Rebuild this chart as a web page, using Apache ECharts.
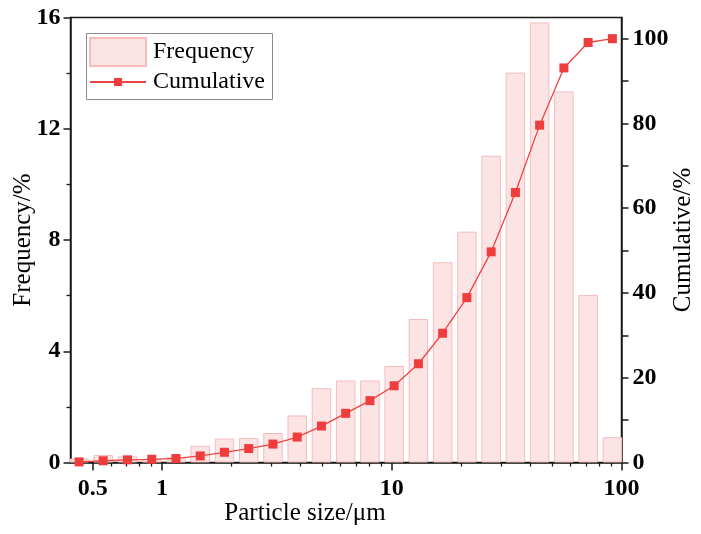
<!DOCTYPE html>
<html>
<head>
<meta charset="utf-8">
<script src="https://cdn.jsdelivr.net/npm/echarts@6/dist/echarts.min.js"></script>
<style>
  html, body { margin: 0; padding: 0; background: #fff; }
  #main { width: 701px; height: 534px; }
</style>
</head>
<body>
<div id="main"></div>
<script>
// 粒径 (µm), 每个柱子的中心
var sizes = [0.436, 0.555, 0.708, 0.903, 1.151, 1.468, 1.871, 2.386, 3.042, 3.879, 4.945, 6.305,
  8.039, 10.25, 13.07, 16.66, 21.24, 27.09, 34.54, 44.03, 56.14, 71.58, 91.27]
// 频率 %
var frequency = [0.14, 0.27, 0.22, 0.13, 0.19, 0.6, 0.86, 0.88, 1.06, 1.69, 2.67, 2.95,
  2.95, 3.47, 5.16, 7.2, 8.3, 11.03, 14.02, 15.82, 13.34, 6.02, 0.91]
// 累积 %
var cumulative = [0.14, 0.41, 0.63, 0.76, 0.95, 1.55, 2.41, 3.29, 4.35, 6.0, 8.6, 11.6,
  14.6, 18.1, 23.3, 30.5, 38.9, 49.7, 63.7, 79.6, 93.1, 99.1, 100]

var xMajorTicks = [0.5, 1, 10, 100]
var xMinorTicks = [0.6, 0.7, 0.8, 0.9, 2, 3, 4, 5, 6, 7, 8, 9, 20, 30, 40, 50, 60, 70, 80, 90]
var cumTicks = [0, 10, 20, 30, 40, 50, 60, 70, 80, 90, 100]
var cumLabels = [0, 20, 40, 60, 80, 100]

var font = 'Liberation Serif'
var axisColor = '#1a1a1a'

var myChart = echarts.init(document.getElementById('main'))

var tickLabel = {
  fontFamily: font,
  fontWeight: 'bold',
  fontSize: 24,
  color: '#000'
}
var nameStyle = {
  fontFamily: font,
  fontSize: 25,
  color: '#000'
}

let option = {
  animation: false,
  backgroundColor: '#fff',
  grid: {
    left: 70.5,
    top: 17.5,
    width: 551,
    height: 445,
    containLabel: false,
    outerBoundsMode: 'none',
    show: true,
    borderColor: axisColor,
    borderWidth: 1.5
  },
  legend: [
    {
      data: [{ name: 'Frequency', icon: 'rect' }],
      left: 89,
      top: 37,
      padding: 0,
      itemWidth: 56,
      itemHeight: 28,
      selectedMode: false,
      textStyle: { fontFamily: font, fontSize: 24, lineHeight: 24, color: '#000', padding: [0, 0, 0, 2] }
    },
    {
      data: ['Cumulative'],
      left: 89,
      top: 70,
      padding: 0,
      itemWidth: 56,
      itemHeight: 10,
      selectedMode: false,
      textStyle: { fontFamily: font, fontSize: 24, lineHeight: 24, color: '#000', padding: [0, 0, 0, 2] }
    }
  ],
  graphic: [
    {
      type: 'rect',
      shape: { x: 86.5, y: 33.5, width: 186, height: 66 },
      style: { fill: 'transparent', stroke: '#8c8c8c', lineWidth: 1 },
      z: 100
    }
  ],
  xAxis: [
    {
      type: 'log',
      min: 0.4,
      max: 100,
      position: 'bottom',
      name: 'Particle size/μm',
      nameLocation: 'middle',
      nameGap: 38,
      nameMoveOverlap: false,
      nameTextStyle: Object.assign({ padding: [0, 82, 0, 0] }, nameStyle),
      axisLine: { show: true, lineStyle: { color: axisColor, width: 1.5 } },
      axisTick: { show: true, inside: false, length: 8, customValues: xMajorTicks, lineStyle: { color: axisColor, width: 1.5 } },
      axisLabel: Object.assign({ customValues: xMajorTicks, margin: 14 }, tickLabel),
      splitLine: { show: false },
      minorTick: { show: false }
    },
    {
      // 次刻度: 放在顶部再用 offset 挪到底边
      type: 'log',
      min: 0.4,
      max: 100,
      position: 'top',
      offset: -445,
      axisLine: { show: true, lineStyle: { color: axisColor, width: 0, opacity: 0 } },
      axisTick: { show: true, inside: true, length: 4, customValues: xMinorTicks, lineStyle: { color: axisColor, width: 1.3 } },
      axisLabel: { show: false },
      splitLine: { show: false }
    }
  ],
  yAxis: [
    {
      type: 'value',
      min: 0,
      max: 16,
      interval: 4,
      position: 'left',
      name: 'Frequency/%',
      nameLocation: 'middle',
      nameRotate: 90,
      nameGap: 35,
      nameMoveOverlap: false,
      nameTextStyle: nameStyle,
      axisLine: { show: true, lineStyle: { color: axisColor, width: 1.5 } },
      axisTick: { show: true, inside: false, length: 7, lineStyle: { color: axisColor, width: 1.5 } },
      minorTick: { show: true, splitNumber: 2, length: 4, lineStyle: { color: axisColor, width: 1.3 } },
      axisLabel: Object.assign({ margin: 10 }, tickLabel),
      splitLine: { show: false }
    },
    {
      type: 'value',
      min: 0,
      max: 105,
      position: 'right',
      name: 'Cumulative/%',
      nameLocation: 'middle',
      nameRotate: 90,
      nameGap: 49,
      nameMoveOverlap: false,
      nameTextStyle: nameStyle,
      axisLine: { show: true, lineStyle: { color: axisColor, width: 1.5 } },
      axisTick: { show: true, inside: false, length: 7, customValues: cumTicks, lineStyle: { color: axisColor, width: 1.5 } },
      axisLabel: Object.assign({ customValues: cumLabels, margin: 11 }, tickLabel),
      splitLine: { show: false }
    }
  ],
  series: [
    {
      name: 'Frequency',
      type: 'bar',
      xAxisIndex: 0,
      yAxisIndex: 0,
      barWidth: 19.5,
      data: sizes.map((s, i) => [s, frequency[i]]),
      itemStyle: {
        color: '#fce4e4',
        borderColor: '#f6bcbc',
        borderWidth: 1
      }
    },
    {
      name: 'Cumulative',
      type: 'line',
      xAxisIndex: 0,
      yAxisIndex: 1,
      data: sizes.map((s, i) => [s, cumulative[i]]),
      symbol: 'rect',
      symbolSize: 9,
      lineStyle: { color: '#f04444', width: 1.3 },
      itemStyle: { color: '#ef3c3c' },
      z: 3
    }
  ]
}
myChart.setOption(option)
</script>
</body>
</html>
